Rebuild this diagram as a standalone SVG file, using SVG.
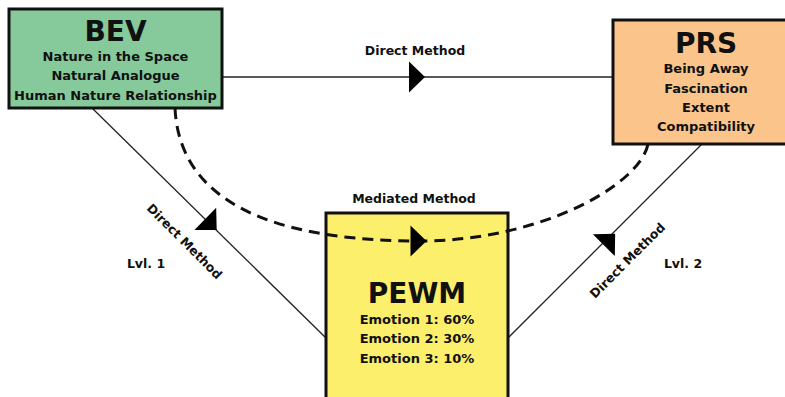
<svg xmlns="http://www.w3.org/2000/svg" width="785" height="397" viewBox="0 0 785 397">
<style>
.box{stroke:#111;stroke-width:3}
.t{font-family:"DejaVu Sans","Open Sans",sans-serif;font-weight:700;fill:#111;text-anchor:middle}
.title{font-size:28px}
.sub{font-size:13px}
.lbl{font-size:12.5px}
.ln{stroke:#222;stroke-width:1.3;fill:none}
.dash{stroke:#111;stroke-width:3;fill:none;stroke-dasharray:11 7}
</style>
<defs>
<path id="ah" d="M-8,-15.5 L8,0 L-8,15.5 Z" fill="#000"/>
</defs>
<rect width="785" height="397" fill="#fff"/>
<g id="connectors">
<line class="ln" x1="222" y1="77" x2="613" y2="77"/>
<use href="#ah" transform="translate(417,77)"/>
<line class="ln" x1="92" y1="108" x2="326" y2="338"/>
<use href="#ah" transform="translate(211,224.5) rotate(44.5)"/>
<line class="ln" x1="702" y1="144" x2="508" y2="338"/>
<use href="#ah" transform="translate(609.5,239.5) rotate(-45)"/>
<text class="t lbl" x="415" y="55">Direct Method</text>
<text class="t lbl" transform="translate(185,241) rotate(45)" y="5">Direct Method</text>
<text class="t lbl" transform="translate(627,260) rotate(-45)" y="5">Direct Method</text>
<text class="t lbl" x="146" y="268">Lvl. 1</text>
<text class="t lbl" x="683" y="268">Lvl. 2</text>
<text class="t lbl" x="414" y="203">Mediated Method</text>
</g>
<g id="PEWM">
<rect class="box" x="326" y="213" width="182" height="190" fill="#fcef6c"/>
</g>
<g id="dashed">
<path class="dash" d="M175,108 C180,215 300,241 420,241 C540,241 640,185 648,144"/>
<use href="#ah" transform="translate(418.5,241)"/>
</g>
<g id="PEWM-text">
<text class="t title" x="417" y="303">PEWM</text>
<text class="t sub" x="417" y="324">Emotion 1: 60%</text>
<text class="t sub" x="417" y="343">Emotion 2: 30%</text>
<text class="t sub" x="417" y="363">Emotion 3: 10%</text>
</g>
<g id="BEV">
<rect class="box" x="9" y="9" width="213" height="99" fill="#86c99a"/>
<text class="t title" x="115.5" y="41">BEV</text>
<text class="t sub" x="115.5" y="61">Nature in the Space</text>
<text class="t sub" x="115.5" y="80">Natural Analogue</text>
<text class="t sub" x="115.5" y="100">Human Nature Relationship</text>
</g>
<g id="PRS">
<rect class="box" x="613" y="20" width="190" height="124" fill="#fbc48a"/>
<text class="t title" x="706" y="53">PRS</text>
<text class="t sub" x="706" y="73">Being Away</text>
<text class="t sub" x="706" y="93">Fascination</text>
<text class="t sub" x="706" y="112">Extent</text>
<text class="t sub" x="706" y="131">Compatibility</text>
</g>
</svg>
